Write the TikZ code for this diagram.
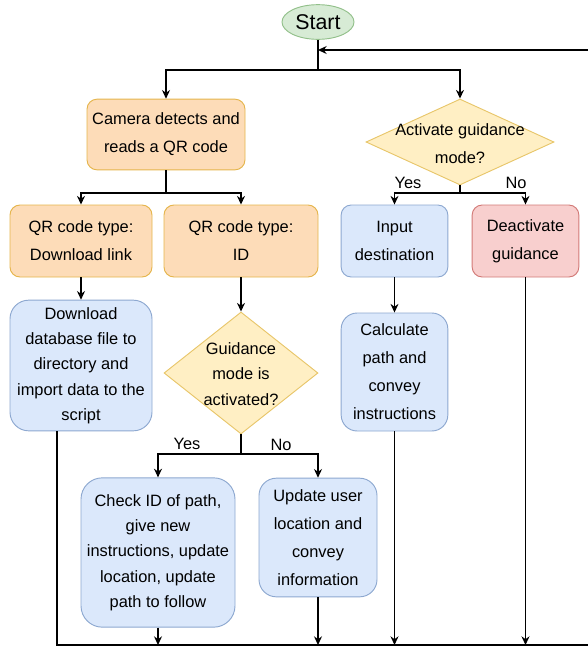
\documentclass[tikz,border=0pt]{standalone}
\usepackage{fontspec}
\setmainfont{Liberation Sans}
\usepackage{xcolor}
\usepackage{tikz}
\usetikzlibrary{shapes.geometric}
\usetikzlibrary{arrows.meta}

\definecolor{orfill}{HTML}{FDDCB8}
\definecolor{ordraw}{HTML}{E5B54C}
\definecolor{blfill}{HTML}{DBE8FB}
\definecolor{bldraw}{HTML}{8DA8D0}
\definecolor{rdfill}{HTML}{F8CFCE}
\definecolor{rddraw}{HTML}{D27A77}
\definecolor{yefill}{HTML}{FFEFC4}
\definecolor{yedraw}{HTML}{E8C66A}
\definecolor{grfill}{HTML}{D7EBD5}
\definecolor{grdraw}{HTML}{92C08A}

\begin{document}
\begin{tikzpicture}[x=0.75pt,y=-0.75pt,
    every node/.style={font=\fontsize{12.3}{21}\selectfont,align=center},
    proc/.style={draw,line width=0.7pt,inner sep=0pt,rounded corners=7.5pt},
    orbox/.style={proc,fill=orfill,draw=ordraw},
    blbox/.style={proc,fill=blfill,draw=bldraw},
    stopbox/.style={proc,fill=rdfill,draw=rddraw},
    dec/.style={diamond,draw=yedraw,fill=yefill,line width=0.7pt,inner sep=0pt},
    arr/.style={-{Stealth[length=6.5pt,width=6pt]},line width=0.9pt},
    lin/.style={line width=0.9pt}]
    \useasboundingbox (0,0) rectangle (588,647);

    \node[ellipse,draw=grdraw,fill=grfill,line width=0.7pt,minimum width=54pt,minimum height=26pt,inner sep=0pt,font=\fontsize{16}{18}\selectfont] (start) at (318,22) {Start};

    \node[orbox,minimum width=118.5pt,minimum height=53pt] (camera) at (166,134.5) {Camera detects and\\reads a QR code};
    \node[dec,minimum width=141pt,minimum height=64.5pt] (act) at (460,142) {};
    \node (actT) at (460,144) {Activate guidance\\mode?};

    \node[orbox,minimum width=106.5pt,minimum height=54pt] (qrdl) at (81,241) {QR code type:\\Download link};
    \node[orbox,minimum width=115.5pt,minimum height=54pt] (qrid) at (241,241) {QR code type:\\ID};
    \node[blbox,minimum width=80pt,minimum height=54pt] (input) at (394.5,241) {Input\\destination};
    \node[stopbox,minimum width=80pt,minimum height=54pt] (deact) at (525.5,241) {Deactivate\\guidance};

    \node[blbox,minimum width=106.5pt,minimum height=98pt,rounded corners=14pt,font=\fontsize{12.3}{19}\selectfont] (dbfile) at (81,365.5) {Download\\database file to\\directory and\\import data to the\\script};
    \node[dec,minimum width=115.5pt,minimum height=91.5pt] (guid) at (241,373) {};
    \node[font=\fontsize{12.3}{19}\selectfont] (guidT) at (241,374) {Guidance\\mode is\\activated?};
    \node[blbox,minimum width=80pt,minimum height=88.5pt,rounded corners=12pt] (calc) at (394.5,372) {Calculate\\path and\\convey\\instructions};

    \node[blbox,minimum width=115.5pt,minimum height=112pt,rounded corners=16pt,font=\fontsize{12.3}{19}\selectfont] (check) at (158,552.5) {Check ID of path,\\give new\\instructions, update\\location, update\\path to follow};
    \node[blbox,minimum width=88.5pt,minimum height=89pt,rounded corners=13pt] (upd) at (318,537.5) {Update user\\location and\\convey\\information};

    \node (yes1) at (408,183) {Yes};
    \node (no1) at (516,183) {No};
    \node (yes2) at (187,444) {Yes};
    \node (no2) at (281,445) {No};

    \coordinate (j1) at (318,70);
    \coordinate (j2) at (166,193);
    \coordinate (j3) at (460,193);
    \coordinate (j4) at (241,454);
    \coordinate (rr) at (588,50);
    \coordinate (b0) at (57,645);
    \coordinate (b1) at (588,645);

    \draw[lin] (start) -- (j1);
    \draw[arr] (j1) -| (camera);
    \draw[arr] (j1) -| (act);
    \draw[arr] (rr) -- (rr -| start);

    \draw[lin] (camera) -- (j2);
    \draw[arr] (j2) -| (qrdl);
    \draw[arr] (j2) -| (qrid);
    \draw[lin] (act) -- (j3);
    \draw[arr] (j3) -| (input);
    \draw[arr] (j3) -| (deact);

    \draw[arr] (qrdl) -- (dbfile);
    \draw[arr] (qrid) -- (guid);
    \draw[arr] (input) -- (calc);

    \draw[lin] (guid) -- (j4);
    \draw[arr] (j4) -| (check);
    \draw[arr] (j4) -| (upd);

    \draw[lin] (dbfile.south -| b0) -- (b0) -- (b1);
    \draw[arr] (check) -- (check |- b0);
    \draw[arr] (upd) -- (upd |- b0);
    \draw[arr] (calc) -- (calc |- b0);
    \draw[arr] (deact) -- (deact |- b0);
  \end{tikzpicture}
\end{document}
